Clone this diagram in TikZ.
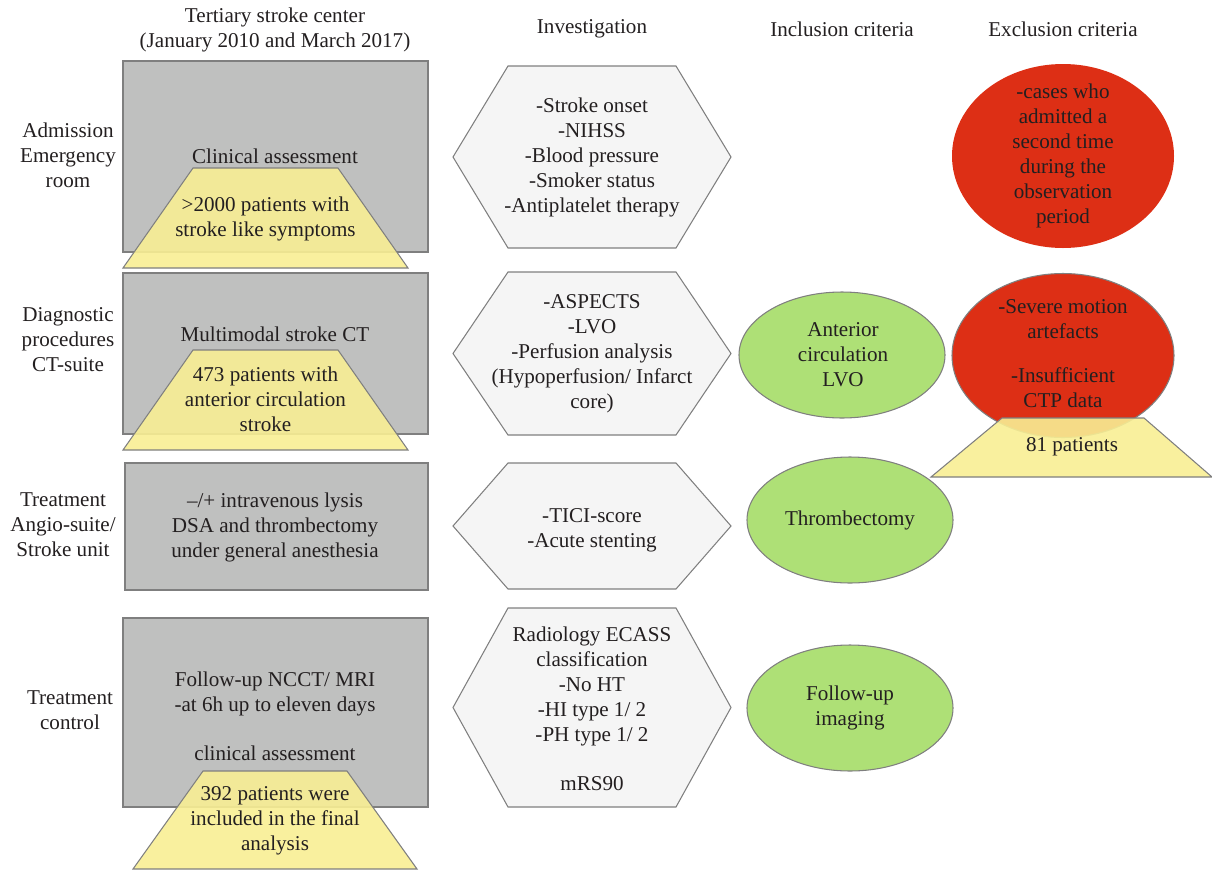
\documentclass[tikz,border=0pt]{standalone}
\usepackage{fontspec}
\setmainfont{Liberation Serif}
\usepackage{xcolor}
\usepackage{tikz}
\usetikzlibrary{shapes.geometric}

\definecolor{boxgray}{HTML}{BFC0BF}
\definecolor{edgegray}{HTML}{7F7F7F}
\definecolor{hexfill}{HTML}{F5F5F5}
\definecolor{trapyellow}{HTML}{F8EE94}
\definecolor{inclgreen}{HTML}{AEE076}
\definecolor{exclred}{HTML}{DD2F15}
\definecolor{ink}{HTML}{231F20}

\begin{document}
\begin{tikzpicture}[x=0.2mm, y=-0.2mm,
    every node/.style={font=\fontsize{12}{14.2}\selectfont, text=ink, align=center, inner sep=0pt},
    graybox/.style={draw=edgegray, fill=boxgray, line width=0.6pt, minimum width=61mm},
    hexbox/.style={draw=edgegray, fill=hexfill, line width=0.6pt},
    trapbox/.style={draw=edgegray, fill=trapyellow, fill opacity=0.9, line width=0.6pt},
    inclbox/.style={ellipse, draw=edgegray, fill=inclgreen, line width=0.6pt, minimum width=41.2mm, minimum height=25.2mm},
    exclbox/.style={ellipse, fill=exclred, minimum width=44.4mm}]
  \useasboundingbox (0,0) rectangle (1212,874);

  % column heads
  \node (hcenter) at (275,30) {Tertiary stroke center\\(January 2010 and March 2017)};
  \node (hinv) at (592,29) {Investigation};
  \node (hincl) at (842,29) {Inclusion criteria};
  \node (hexcl) at (1063,29) {Exclusion criteria};

  % row heads
  \node (radm) at (68,155) {Admission\\Emergency\\room};
  \node (rdiag) at (68,340) {Diagnostic\\procedures\\CT-suite};
  \node (rtreat) at (63,525) {Treatment\\Angio-suite/\\Stroke unit};
  \node (rctrl) at (70,710) {Treatment\\control};

  % stroke center column
  \node[graybox, minimum height=38.2mm] (adm) at (275.5,156.5) {};
  \node[graybox, minimum height=32.2mm] (diag) at (275.5,353.5) {};
  \node[graybox, minimum width=60.6mm, minimum height=25.4mm] (treat) at (276.5,526.5) {};
  \node[graybox, minimum height=37.8mm] (ctrl) at (275.5,712.5) {};

  \node (admtxt) at (275,156) {Clinical assessment};
  \node (diagtxt) at (275,334) {Multimodal stroke CT};
  \node (treattxt) at (275,527) {--/+ intravenous lysis\\DSA and thrombectomy\\under general anesthesia};
  \node (ctrltxt) at (275,716) {Follow-up NCCT/ MRI\\-at 6h up to eleven days\\[13.6pt]clinical assessment};

  \draw[trapbox] (193,168) -- (338,168) -- (408,268) -- (123,268) -- cycle;
  \draw[trapbox] (193,350) -- (338,350) -- (408,450) -- (123,450) -- cycle;
  \draw[trapbox] (203,771) -- (347,771) -- (417,869) -- (133,869) -- cycle;
  \node (nadm) at (265.5,219) {>2000 patients with\\stroke like symptoms};
  \node (ndiag) at (265.5,399) {473 patients with\\anterior circulation\\stroke};
  \node (nctrl) at (275,821) {392 patients were\\included in the final\\analysis};

  % investigation column
  \foreach \cy/\h in {157/91, 353.5/81.5, 526/63, 707.5/99.5}
    \draw[hexbox] (453,\cy) -- (508,\cy-\h) -- (676,\cy-\h) -- (731,\cy)
      -- (676,\cy+\h) -- (508,\cy+\h) -- cycle;
  \node (invadm) at (592,157.5) {-Stroke onset\\-NIHSS\\-Blood pressure\\-Smoker status\\-Antiplatelet therapy};
  \node (invdiag) at (592,353.5) {-ASPECTS\\-LVO\\-Perfusion analysis\\(Hypoperfusion/ Infarct\\core)};
  \node (invtreat) at (592,530) {-TICI-score\\-Acute stenting};
  \node (invctrl) at (592,709) {Radiology ECASS\\classification\\-No HT\\-HI type 1/ 2\\-PH type 1/ 2\\[13.6pt]mRS90};

  % inclusion column
  \node[inclbox] (incdiag) at (842,355) {};
  \node[inclbox] (inctreat) at (850,520) {};
  \node[inclbox] (incctrl) at (850,708) {};
  \node at (843,355) {Anterior\\circulation\\LVO};
  \node at (850,520) {Thrombectomy};
  \node at (850,708) {Follow-up\\imaging};

  % exclusion column
  \node[exclbox, minimum height=36.8mm] (excadm) at (1063,156) {};
  \node[exclbox, draw=edgegray, line width=0.6pt, minimum height=32.8mm] (excdiag) at (1063,355.5) {};
  \node at (1063,156) {-cases who\\admitted a\\second time\\during the\\observation\\period};
  \node at (1063,354) {-Severe motion\\artefacts\\[10.8pt]-Insufficient\\CTP data};
  \draw[trapbox] (1002,418) -- (1144,418) -- (1212,477) -- (931,477) -- cycle;
  \node (nexcl) at (1072,447) {81 patients};
\end{tikzpicture}
\end{document}
